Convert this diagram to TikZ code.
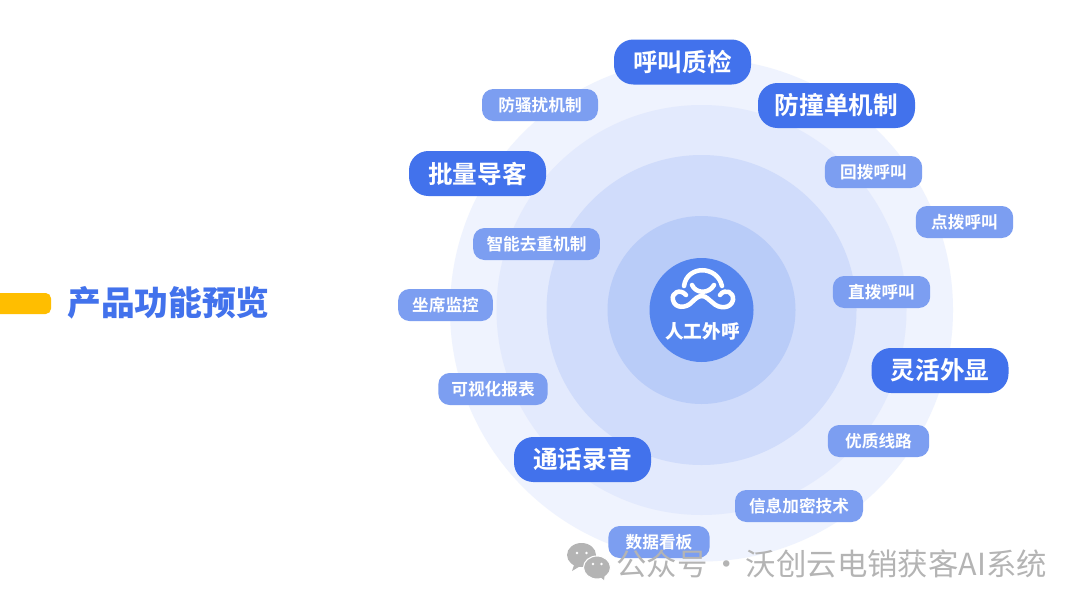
\documentclass[tikz,border=0pt]{standalone}
\usepackage{fontspec}
\usepackage{tikz}
\newfontfamily\cjkbold{Noto Sans CJK SC Bold}
\newfontfamily\cjkblack{Noto Sans CJK SC Black}
\newfontfamily\cjkplain{Noto Sans CJK SC}
\definecolor{mblue}{HTML}{4272EC}
\definecolor{mlight}{HTML}{7C9EF1}
\definecolor{mcore}{HTML}{5585EE}
\definecolor{mring1}{HTML}{EFF3FE}
\definecolor{mring2}{HTML}{E3EAFD}
\definecolor{mring3}{HTML}{D0DCFB}
\definecolor{mring4}{HTML}{B9CCF8}
\definecolor{myellow}{HTML}{FFBE00}
\definecolor{mgrey}{HTML}{B4B4B4}
\tikzset{bigtag/.style = {fill = mblue, text = white, rounded corners = 14.5, minimum width = 102.75, minimum height = 33.75, inner sep = 0, font = \cjkbold\fontsize{18.5}{20}\selectfont}}
\tikzset{smalltag/.style = {fill = mlight, text = white, rounded corners = 8.5, minimum height = 24, inner sep = 0, font = \cjkbold\fontsize{12.5}{14}\selectfont}}
\tikzset{logoline/.style = {white, line width = 3.4, line cap = round, line join = round}}
\tikzset{wechat/.style = {fill = mgrey}}
\tikzset{eye/.style = {fill = white, circle, inner sep = 0, minimum size = 2.2}}
\begin{document}
\begin{tikzpicture}[x=0.75pt, y=-0.75pt]
          \useasboundingbox [fill = white] (0, 0) rectangle (1080, 607);

          \fill [mring1] (701.5, 310) circle [radius = 251.5];
          \fill [mring2] (701.5, 310) circle [radius = 205];
          \fill [mring3] (701.5, 310) circle [radius = 155];
          \fill [mring4] (701.5, 310) circle [radius = 94];
          \fill [mcore] (701.5, 310) circle [radius = 52];

          \fill [myellow, rounded corners = 4] (-10, 293) rectangle (51, 314);
          \node [text = mblue, inner sep = 0, font = \cjkblack\fontsize{25.3}{27}\selectfont] (title) at (168.5, 303) {产品功能预览};

          \node [bigtag] (quality) at (682.5, 62) {呼叫质检};
          \node [bigtag, minimum width = 117.75] (collide) at (836.5, 105.5) {防撞单机制};
          \node [bigtag] (batch) at (477.5, 173.5) {批量导客};
          \node [bigtag] (display) at (940, 370.5) {灵活外显};
          \node [bigtag] (record) at (582.5, 459.5) {通话录音};

          \node [smalltag, minimum width = 87] (harass) at (540, 105) {防骚扰机制};
          \node [smalltag, minimum width = 73] (callback) at (873.5, 172) {回拨呼叫};
          \node [smalltag, minimum width = 73] (click) at (964.5, 222) {点拨呼叫};
          \node [smalltag, minimum width = 95] (dedup) at (536.5, 244) {智能去重机制};
          \node [smalltag, minimum width = 73] (direct) at (881.5, 292) {直拨呼叫};
          \node [smalltag, minimum width = 71] (monitor) at (445.5, 305) {坐席监控};
          \node [smalltag, minimum width = 82] (report) at (493, 389) {可视化报表};
          \node [smalltag, minimum width = 76] (line) at (878.5, 441) {优质线路};
          \node [smalltag, minimum width = 96] (secure) at (799, 506) {信息加密技术};
          \node [smalltag, minimum width = 76] (board) at (659, 542) {数据看板};

          % logo
          \draw [logoline] (684, 286) .. controls (687, 265) and (717, 265) .. (722, 286);
          \draw [logoline] (692, 285) .. controls (696, 294) and (709, 294) .. (714, 285);
          \draw [logoline] (686, 295) .. controls (680, 288) and (671, 293) .. (673, 300)
            .. controls (675, 309) and (686, 308) .. (691, 303)
            .. controls (695, 299) and (698, 296) .. (702, 296)
            .. controls (706, 296) and (709, 300) .. (713, 303)
            .. controls (719, 309) and (731, 309) .. (733, 300)
            .. controls (734, 292) and (725, 288) .. (720, 295);
          \node [text = white, inner sep = 0, font = \cjkblack\fontsize{14}{16}\selectfont] (logotext) at (702.5, 331) {人工外呼};

          % watermark
          \fill [wechat] (581.5, 555) ellipse [x radius = 14.5, y radius = 12];
          \fill [wechat] (575, 562) -- (572, 571) -- (582, 565) -- cycle;
          \filldraw [wechat, draw = white, line width = 0.8] (597, 567.5) ellipse [x radius = 13.5, y radius = 11.5];
          \fill [wechat] (599, 576) -- (604, 580) -- (605, 573) -- cycle;
          \node [eye] (eye1) at (577, 553) {};
          \node [eye] (eye2) at (586.5, 553) {};
          \node [eye] (eye3) at (593, 564) {};
          \node [eye] (eye4) at (601.5, 564) {};
          \node [text = mgrey, inner sep = 0, font = \cjkplain\fontsize{22.8}{24}\selectfont] (mark) at (831.5, 564) {公众号\hspace{3pt}·\hspace{3pt}沃创云电销获客AI系统};
\end{tikzpicture}
\end{document}
